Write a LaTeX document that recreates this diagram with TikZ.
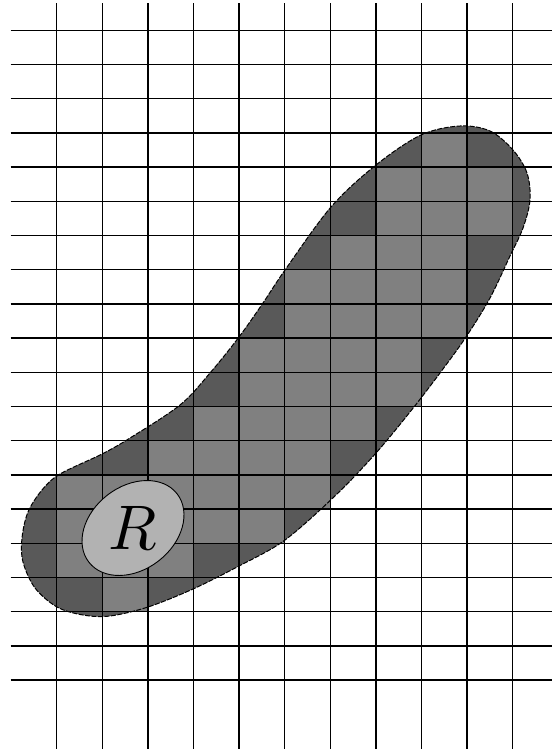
\documentclass[tikz,border=0pt]{standalone}
\usetikzlibrary{shapes.geometric}
\definecolor{blobdark}{gray}{0.35}
\definecolor{cellgray}{gray}{0.5}
\definecolor{rfill}{gray}{0.7}
\tikzset{
  gridline/.style={line width=1.3pt, black},
  blobedge/.style={line width=1pt, black, dash pattern=on 5pt off 1.5pt},
  regionR/.style={ellipse, draw=black, line width=0.9pt, fill=rfill, inner sep=0pt}
}
\begin{document}
\begin{tikzpicture}[x=1pt,y=-1pt]
\useasboundingbox (0,0) rectangle (552,750);
% blob fill
\fill[blobdark] plot[smooth cycle, tension=0.55] coordinates {
 (460,126) (490,131) (513,150) (527,173) (530,200) (523,228) (510,256)
 (490,298) (466,337) (440,373) (410,412) (376,453) (337,494) (285,540)
 (239,566) (193,589) (148,607) (110,616) (83,615) (57,607) (35,588)
 (23,562) (22,538) (28,512) (42,490) (60,474) (102,454) (130,438)
 (180,405) (210,373) (239,337) (263,303) (285,270) (331,207) (376,165) (421,135)};
% cells fully inside
\foreach \c/\r in {9/4, 8/5, 9/5, 10/5, 8/6, 9/6, 10/6, 7/7, 8/7, 9/7,
  6/8, 7/8, 8/8, 9/8, 6/9, 7/9, 8/9, 9/9, 5/10, 6/10, 7/10, 8/10,
  5/11, 6/11, 7/11, 8/11, 4/12, 5/12, 6/12, 7/12, 3/13, 4/13, 5/13, 6/13,
  1/14, 2/14, 3/14, 4/14, 5/14, 6/14, 1/15, 2/15, 3/15, 4/15, 5/15,
  1/16, 2/16, 3/16, 2/17}
  \fill[cellgray] ({56.7+45.6*(\c-1)},{30.3+34.2*(\r-1)}) rectangle ++(45.6,34.2);
% grid
\foreach \i in {0,...,10}
  \draw[gridline] ({56.7+45.6*\i},3.3) -- ({56.7+45.6*\i},749);
\foreach \j in {0,...,19}
  \draw[gridline] (10.7,{30.3+34.2*\j}) -- (552,{30.3+34.2*\j});
% blob outline
\draw[blobedge] plot[smooth cycle, tension=0.55] coordinates {
 (460,126) (490,131) (513,150) (527,173) (530,200) (523,228) (510,256)
 (490,298) (466,337) (440,373) (410,412) (376,453) (337,494) (285,540)
 (239,566) (193,589) (148,607) (110,616) (83,615) (57,607) (35,588)
 (23,562) (22,538) (28,512) (42,490) (60,474) (102,454) (130,438)
 (180,405) (210,373) (239,337) (263,303) (285,270) (331,207) (376,165) (421,135)};
% region R
\node[regionR, minimum width=111.6pt, minimum height=83.4pt, rotate=37.7] (Rell) at (133,528) {};
\node[scale=6.3, inner sep=0pt] (Rlab) at (Rell.center) {$R$};
\end{tikzpicture}
\end{document}
